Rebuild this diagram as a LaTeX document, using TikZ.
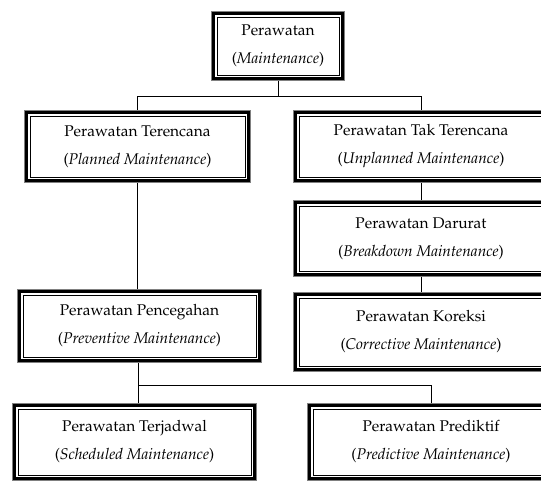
\documentclass[tikz,border=0pt]{standalone}
\usepackage[T1]{fontenc}
\usepackage{mathpazo}

\begin{document}
\begin{tikzpicture}[x=1pt, y=1pt]
\tikzstyle{every node}=[align=center, font=\fontsize{15.5}{28}\selectfont]
\tikzstyle{kotak}=[draw, line width=0.8pt, fill=white, inner sep=0pt]
\useasboundingbox (0,0) rectangle (541,-480);
\clip (0,0) rectangle (541,-480);

% nodes
\node[kotak, minimum width=122, minimum height=58] (rawat)    at (278,-46)   {Perawatan\\(\textit{Maintenance})};
\node[kotak, minimum width=215, minimum height=61] (rencana)  at (137.5,-146.5) {Perawatan Terencana\\(\textit{Planned Maintenance})};
\node[kotak, minimum width=244, minimum height=61] (takren)   at (421,-146.5) {Perawatan Tak Terencana\\(\textit{Unplanned Maintenance})};
\node[kotak, minimum width=244, minimum height=65] (darurat)  at (421,-238.5) {Perawatan Darurat\\(\textit{Breakdown Maintenance})};
\node[kotak, minimum width=244, minimum height=68] (koreksi)  at (421,-332) {Perawatan Koreksi\\(\textit{Corrective Maintenance})};
\node[kotak, minimum width=233, minimum height=62] (cegah)    at (139.5,-326) {Perawatan Pencegahan\\(\textit{Preventive Maintenance})};
\node[kotak, minimum width=233, minimum height=66] (jadwal)   at (134.5,-442) {Perawatan Terjadwal\\(\textit{Scheduled Maintenance})};
\node[kotak, minimum width=236, minimum height=66] (prediksi) at (431,-442) {Perawatan Prediktif\\(\textit{Predictive Maintenance})};

% frames
\foreach \n in {rawat,rencana,takren,darurat,koreksi,cegah,jadwal,prediksi} {
	\draw[line width=3pt] ([shift={(-3,3)}]\n.north west) rectangle ([shift={(3,-3)}]\n.south east);
	\draw[gray, line width=1.5pt] ([shift={(-5.25,5.25)}]\n.north west) rectangle ([shift={(5.25,-5.25)}]\n.south east);
}

% connectors
\coordinate (bus1) at (278,-96);
\coordinate (bus2) at (138,-385);
\path[draw, line width=0.8pt]
([yshift=-6]rawat.south) -- (bus1)
(bus1) -| ([yshift=6]rencana.north)
(bus1) -| ([yshift=6]takren.north)
([yshift=-6]rencana.south) -- ([yshift=6]rencana.south |- cegah.north)
([yshift=-6]takren.south) -- ([yshift=6]darurat.north)
([yshift=-6]darurat.south) -- ([yshift=6]koreksi.north)
([yshift=-6]cegah.south -| bus2) -- (bus2)
(bus2) -- ([yshift=6]bus2 |- jadwal.north)
(bus2) -| ([yshift=6]prediksi.north);
\end{tikzpicture}
\end{document}
